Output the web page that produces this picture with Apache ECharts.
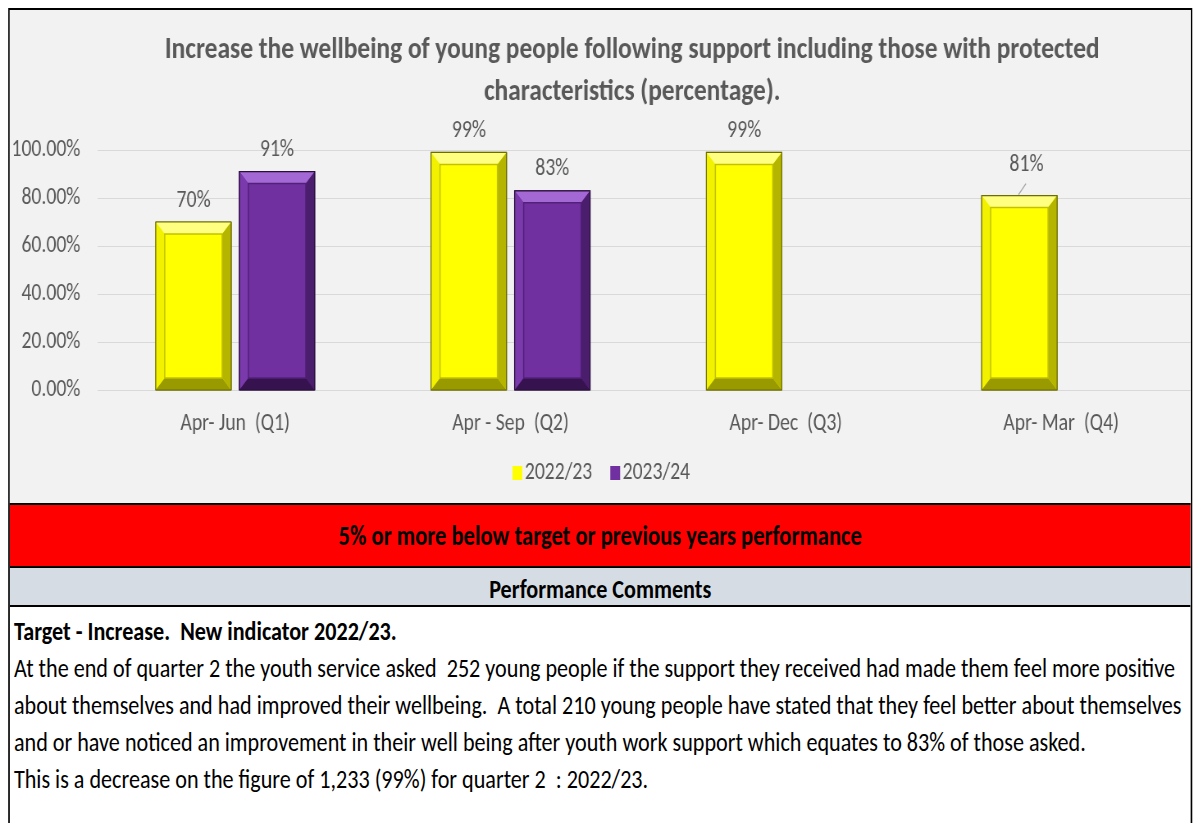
<!DOCTYPE html>
<html>
<head>
<meta charset="utf-8">
<script src="https://cdn.jsdelivr.net/npm/echarts@6/dist/echarts.min.js"></script>
<style>
  html, body { margin:0; padding:0; background:#ffffff; width:1196px; height:823px; overflow:hidden; }
  body { font-family: 'Carlito', 'Liberation Sans Narrow', 'DejaVu Sans Condensed', 'Open Sans', sans-serif; }
  /* reference is drawn horizontally condensed: lay out wide, then squeeze */
  #stage { position:absolute; left:0; top:0; width:1459px; height:823px; transform:scaleX(0.82); transform-origin:0 0; }
  #frame { position:absolute; left:10px; top:8px; width:1444px; height:830px; border:2px solid #000; box-sizing:border-box; background:#fff; overflow:hidden; }
  #chart { position:absolute; left:0; top:0; width:1440px; height:493px; background:#f2f2f2; }
  #red { position:absolute; left:0; top:493px; width:1440px; height:61px; border-top:2px solid #000; border-bottom:2px solid #000; background:#ff0000; color:#000; font-weight:bold; font-size:27.5px; text-align:center; line-height:61px; }
  #grey { position:absolute; left:0; top:558px; width:1440px; height:37px; border-bottom:2px solid #000; background:#d6dce4; color:#000; font-weight:bold; font-size:27px; text-align:center; line-height:41px; overflow:hidden; }
  #comments { position:absolute; left:5px; top:602px; width:1430px; color:#000; font-size:27px; line-height:37px; white-space:pre; }
  #comments .b { font-weight:bold; }
</style>
</head>
<body>
<div id="stage">
<div id="frame">
  <div id="chart"></div>
  <div id="red"></div>
  <div id="grey"></div>
  <div id="comments"></div>
</div>
</div>
<script>
// ---------- DATA ----------
const chartTitle = ['Increase the wellbeing of young people following support including those with protected', 'characteristics (percentage).'];
const categories = ['Apr- Jun  (Q1)', 'Apr - Sep  (Q2)', 'Apr- Dec  (Q3)', 'Apr- Mar  (Q4)'];
const seriesNames = ['2022/23', '2023/24'];
const values2022 = [70, 99, 99, 81];
const values2023 = [91, 83, null, null];
const yTicks = [0, 20, 40, 60, 80, 100];
const statusText = '5% or more below target or previous years performance';
const commentsHeader = 'Performance Comments';
const commentsBold = 'Target - Increase.  New indicator 2022/23.';
const commentsLines = [
  'At the end of quarter 2 the youth service asked  252 young people if the support they received had made them feel more positive',
  'about themselves and had improved their wellbeing.  A total 210 young people have stated that they feel better about themselves',
  'and or have noticed an improvement in their well being after youth work support which equates to 83% of those asked.',
  'This is a decrease on the figure of 1,233 (99%) for quarter 2  : 2022/23.'
];

// ---------- HTML text ----------
document.getElementById('red').textContent = statusText;
document.getElementById('grey').textContent = commentsHeader;
const cm = document.getElementById('comments');
const bdiv = document.createElement('div'); bdiv.className = 'b'; bdiv.textContent = commentsBold; cm.appendChild(bdiv);
commentsLines.forEach(t => { const d = document.createElement('div'); d.textContent = t; cm.appendChild(d); });

// ---------- CHART ----------
const FONT = "Carlito, 'Liberation Sans Narrow', 'DejaVu Sans Condensed', 'Open Sans', sans-serif";
const BAR_W = 92;
const BX = 11, BY = 12;
const palettes = [
  { fill:'#ffff00', light:'#ffff80', left:'#f2f200', right:'#b5b500', bottom:'#999900', inner:'#c2c200', outer:'#6e6e00' },
  { fill:'#7030a0', light:'#a468d4', left:'#7b3aac', right:'#4a1d6d', bottom:'#36124f', inner:'#52207a', outer:'#2a0f3d' }
];
const offsets = [-51, 51];
// the label that Excel moved off its bar (drawn with a leader line)
const movedLabel = { series:0, index:3, dx:8.5, dy:-9 };

function bevelRenderer(k) {
  return function (params, api) {
    const val = api.value(1);
    if (val == null || isNaN(val)) return;
    const c = palettes[k];
    const top = api.coord([api.value(0), val]);
    const base = api.coord([api.value(0), 0]);
    const cx = top[0] + offsets[k];
    const x0 = cx - BAR_W / 2, x1 = cx + BAR_W / 2, y0 = top[1], y1 = base[1];
    const children = [
      { type:'polygon', shape:{ points:[[x0,y0],[x1,y0],[x1-BX,y0+BY],[x0+BX,y0+BY]] }, style:{ fill:c.light } },
      { type:'polygon', shape:{ points:[[x0,y0],[x0+BX,y0+BY],[x0+BX,y1-BY],[x0,y1]] }, style:{ fill:c.left } },
      { type:'polygon', shape:{ points:[[x1,y0],[x1,y1],[x1-BX,y1-BY],[x1-BX,y0+BY]] }, style:{ fill:c.right } },
      { type:'polygon', shape:{ points:[[x0,y1],[x1,y1],[x1-BX,y1-BY],[x0+BX,y1-BY]] }, style:{ fill:c.bottom } },
      { type:'rect', shape:{ x:x0+BX, y:y0+BY, width:BAR_W-2*BX, height:y1-y0-2*BY }, style:{ fill:c.fill, stroke:c.inner, lineWidth:1.5 } },
      { type:'rect', shape:{ x:x0, y:y0, width:BAR_W, height:y1-y0 }, style:{ fill:null, stroke:c.outer, lineWidth:1.2 } }
    ];
    if (k === movedLabel.series && params.dataIndex === movedLabel.index) {
      children.push({ type:'line', shape:{ x1:cx - 1, y1:y0 - 1, x2:cx + 8, y2:y0 - 12 }, style:{ stroke:'#a6a6a6', lineWidth:1.3 } });
    }
    return { type:'group', children };
  };
}

const chart = echarts.init(document.getElementById('chart'), null, { renderer:'canvas' });
const labelStyle = { show:true, position:'top', distance:9, color:'#595959', fontSize:24, fontFamily:FONT, formatter:p => p.value + '%' };

chart.setOption({
  animation:false,
  backgroundColor:'#f2f2f2',
  textStyle:{ fontFamily:FONT },
  title:{
    text: chartTitle.join('\n'),
    left: 754, top: 14, textAlign:'center',
    textStyle:{ color:'#595959', fontSize:31, fontWeight:'bold', fontFamily:FONT, lineHeight:42 }
  },
  legend:{
    data: seriesNames,
    left: 608, top: 446,
    itemWidth: 12, itemHeight: 14, itemGap: 22,
    icon: 'rect',
    textStyle:{ color:'#595959', fontSize:24, fontFamily:FONT, padding:[0,0,0,-2] }
  },
  grid:{ left:107, top:140, width:1343, height:240, containLabel:false, outerBoundsMode:'none' },
  xAxis:{
    type:'category', data:categories,
    axisLine:{ show:false }, axisTick:{ show:false },
    axisLabel:{ color:'#595959', fontSize:24, fontFamily:FONT, margin:22 }
  },
  yAxis:{
    type:'value', min:yTicks[0], max:yTicks[yTicks.length-1], interval:yTicks[1]-yTicks[0],
    axisLine:{ show:false }, axisTick:{ show:false },
    axisLabel:{ color:'#595959', fontSize:24, fontFamily:FONT, margin:21, formatter:v => v.toFixed(2) + '%' },
    splitLine:{ lineStyle:{ color:'#d9d9d9', width:1.2 } }
  },
  series:[
    { name:seriesNames[0], type:'bar', data:values2022, barWidth:BAR_W, barGap:'10.5%',
      itemStyle:{ color:palettes[0].fill, borderColor:palettes[0].outer }, label:labelStyle, z:2,
      labelLayout: p => p.dataIndex === movedLabel.index ? { dx:movedLabel.dx, dy:movedLabel.dy } : {} },
    { name:seriesNames[1], type:'bar', data:values2023, barWidth:BAR_W, barGap:'10.5%',
      itemStyle:{ color:palettes[1].fill, borderColor:palettes[1].outer }, label:labelStyle, z:2 },
    { type:'custom', renderItem:bevelRenderer(0), data:values2022.map((v,i)=>[i,v]), encode:{x:0,y:1}, z:3, silent:true },
    { type:'custom', renderItem:bevelRenderer(1), data:values2023.map((v,i)=>[i,v]), encode:{x:0,y:1}, z:3, silent:true }
  ]
});
</script>
</body>
</html>
